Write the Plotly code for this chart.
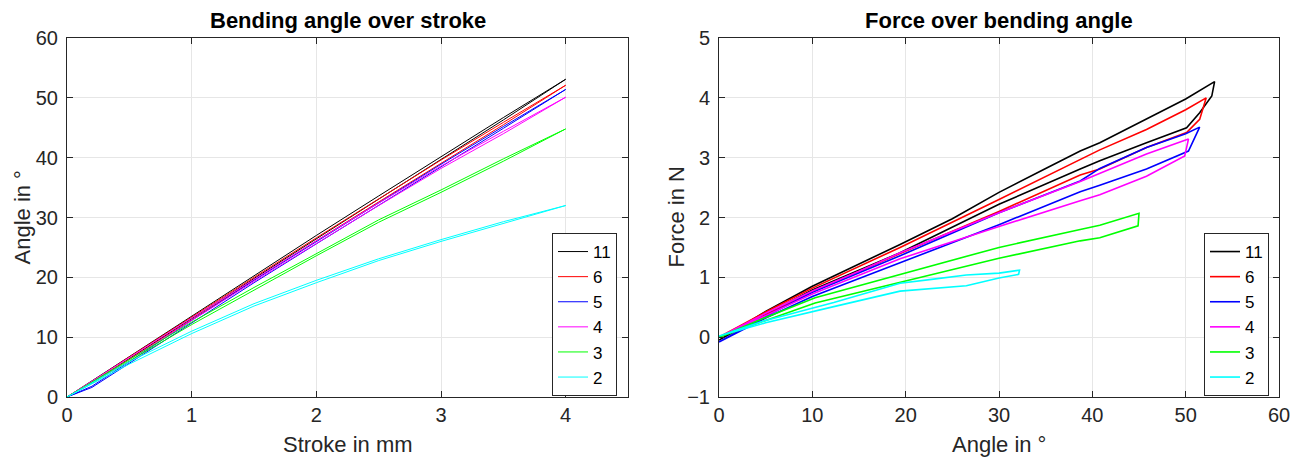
import plotly.graph_objects as go

# ---------------- data ----------------
series_names = ["11", "6", "5", "4", "3", "2"]
series_colors = ["#000000", "#ff0000", "#0000ff", "#ff00ff", "#00ff00", "#00ffff"]

# Left: bending angle over stroke (loading then unloading)
stroke_load = [0, 0.2, 0.5, 1.0, 1.5, 2.0, 2.5, 3.0, 3.5, 4.0]
stroke_unload = [4.0, 3.5, 3.0, 2.5, 2.0, 1.5, 1.0, 0.5, 0.2, 0]

angle_load_11 = [0, 2.7, 6.8, 13.6, 20.3, 27.0, 33.6, 40.2, 46.7, 53.1]
angle_unload_11 = [53.1, 46.3, 39.7, 33.1, 26.5, 19.8, 13.1, 6.4, 2.4, 0]
angle_load_6 = [0, 2.6, 6.7, 13.4, 20.0, 26.6, 33.1, 39.6, 45.9, 52.1]
angle_unload_6 = [52.1, 45.5, 39.1, 32.6, 26.1, 19.6, 12.9, 6.3, 2.4, 0]
angle_load_5 = [0, 1.8, 5.9, 12.8, 19.5, 26.0, 32.5, 38.9, 45.2, 51.4]
angle_unload_5 = [51.4, 44.9, 38.5, 32.1, 25.6, 19.1, 12.4, 5.6, 1.6, 0]
angle_load_4 = [0, 2.6, 6.6, 13.2, 19.7, 26.1, 32.4, 38.6, 44.4, 50.1]
angle_unload_4 = [50.1, 44.0, 38.2, 32.0, 25.7, 19.3, 12.8, 6.2, 2.3, 0]
angle_load_3 = [0, 2.5, 6.3, 12.5, 18.3, 24.0, 29.6, 34.6, 39.8, 44.8]
angle_unload_3 = [44.8, 39.4, 34.2, 29.2, 23.6, 17.9, 12.1, 6.0, 2.3, 0]
angle_load_2 = [0, 2.4, 5.9, 11.0, 15.6, 19.5, 23.1, 26.3, 29.3, 32.0]
angle_unload_2 = [32.0, 29.0, 26.0, 22.8, 19.1, 15.2, 10.6, 5.5, 2.2, 0]

# Right: force over bending angle (loading branch, then unloading branch)
fa_up_11 = [0, 5, 10, 15, 19.4, 25, 30, 35, 38.7, 40.8, 45.8, 50, 53.1]
ff_up_11 = [-0.05, 0.43, 0.85, 1.22, 1.55, 1.98, 2.42, 2.82, 3.11, 3.25, 3.64, 3.98, 4.27]
fa_dn_11 = [53.1, 52.8, 51.5, 50.1, 45.8, 40.8, 38.7, 30, 19.4, 10, 5, 0]
ff_dn_11 = [4.27, 4.03, 3.75, 3.50, 3.25, 2.95, 2.81, 2.22, 1.41, 0.79, 0.38, -0.05]

fa_up_6 = [0, 5, 10, 15, 19.4, 30, 38.7, 40.8, 45.8, 50, 52.2]
ff_up_6 = [0, 0.42, 0.82, 1.18, 1.50, 2.30, 2.97, 3.13, 3.47, 3.80, 4.00]
fa_dn_6 = [52.2, 51.5, 50.1, 45.8, 40.8, 38.7, 30, 19.4, 10, 5, 0]
ff_dn_6 = [4.00, 3.64, 3.42, 3.17, 2.81, 2.71, 2.10, 1.40, 0.76, 0.37, 0]

fa_up_5 = [0, 5, 10, 15, 19.4, 30, 38.7, 40.8, 45.8, 50, 51.5]
ff_up_5 = [-0.08, 0.35, 0.75, 1.08, 1.36, 2.08, 2.61, 2.82, 3.17, 3.40, 3.51]
fa_dn_5 = [51.5, 50.3, 45.8, 40.8, 38.7, 30, 19.4, 10, 5, 0]
ff_dn_5 = [3.51, 3.11, 2.81, 2.54, 2.43, 1.88, 1.25, 0.68, 0.32, -0.08]

fa_up_4 = [0, 5, 10, 15, 19.4, 30, 38.7, 40.8, 45.8, 50.3]
ff_up_4 = [0, 0.40, 0.77, 1.10, 1.41, 2.08, 2.60, 2.74, 3.06, 3.31]
fa_dn_4 = [50.3, 49.9, 45.8, 40.8, 38.7, 30, 19.4, 10, 5, 0]
ff_dn_4 = [3.31, 3.03, 2.69, 2.38, 2.28, 1.85, 1.31, 0.72, 0.36, 0]

fa_up_3 = [0, 5, 10.3, 19.4, 30, 38.7, 40.8, 45.0]
ff_up_3 = [0, 0.33, 0.66, 1.05, 1.50, 1.80, 1.87, 2.07]
fa_dn_3 = [45.0, 44.9, 40.8, 38.7, 30, 19.4, 10.3, 5, 0]
ff_dn_3 = [2.07, 1.86, 1.66, 1.61, 1.32, 0.92, 0.57, 0.28, 0]

fa_up_2 = [0, 5, 12.3, 19.4, 23, 26.5, 30, 32.2]
ff_up_2 = [0.02, 0.28, 0.58, 0.90, 0.97, 1.04, 1.07, 1.12]
fa_dn_2 = [32.2, 32.1, 30, 26.5, 23, 19.4, 12.3, 5, 0]
ff_dn_2 = [1.12, 1.05, 0.99, 0.86, 0.81, 0.77, 0.51, 0.24, 0.02]

left_data = [
    (angle_load_11, angle_unload_11), (angle_load_6, angle_unload_6),
    (angle_load_5, angle_unload_5), (angle_load_4, angle_unload_4),
    (angle_load_3, angle_unload_3), (angle_load_2, angle_unload_2),
]
right_data = [
    (fa_up_11, ff_up_11, fa_dn_11, ff_dn_11), (fa_up_6, ff_up_6, fa_dn_6, ff_dn_6),
    (fa_up_5, ff_up_5, fa_dn_5, ff_dn_5), (fa_up_4, ff_up_4, fa_dn_4, ff_dn_4),
    (fa_up_3, ff_up_3, fa_dn_3, ff_dn_3), (fa_up_2, ff_up_2, fa_dn_2, ff_dn_2),
]

# ---------------- figure ----------------
W, H = 1301, 457
FONT = "Liberation Sans, Arial, Helvetica, sans-serif"
AX = "#262626"
GRID = "#e6e6e6"

fig = go.Figure()

for name, col, (ld, ud) in zip(series_names, series_colors, left_data):
    fig.add_trace(go.Scatter(
        x=stroke_load + stroke_unload, y=ld + ud, mode="lines", name=name,
        line=dict(color=col, width=1), xaxis="x", yaxis="y", legend="legend",
    ))

for name, col, (xa, ya, xb, yb) in zip(series_names, series_colors, right_data):
    fig.add_trace(go.Scatter(
        x=xa + xb, y=ya + yb, mode="lines", name=name,
        line=dict(color=col, width=1.6), xaxis="x2", yaxis="y2", legend="legend2",
    ))

ydom = [1 - 397 / H, 1 - 38 / H]
common_axis = dict(
    showline=True, linecolor=AX, linewidth=1, mirror="ticks",
    ticks="inside", ticklen=6, tickcolor=AX, tickwidth=1,
    showgrid=True, gridcolor=GRID, gridwidth=1, zeroline=False,
    tickfont=dict(family=FONT, size=20, color=AX),
    automargin=False,
)
title_font = dict(family=FONT, size=22, color=AX)

legend_style = dict(
    xanchor="right", yanchor="top", bgcolor="white", bordercolor=AX, borderwidth=1,
    font=dict(family=FONT, size=17, color="#000"), itemwidth=30, tracegroupgap=0,
)

def ann(text, xpx, ypx, size=22, bold=False, angle=0, color=AX):
    return dict(
        text=f"<b>{text}</b>" if bold else text, x=xpx / W, y=1 - ypx / H,
        xref="paper", yref="paper", xanchor="center", yanchor="middle",
        textangle=angle, showarrow=False, font=dict(family=FONT, size=size, color=color),
    )

fig.update_layout(
    width=W, height=H,
    margin=dict(l=0, r=0, t=0, b=0),
    paper_bgcolor="white", plot_bgcolor="white",
    showlegend=True,
    xaxis=dict(domain=[67 / W, 628 / W], range=[0, 4.5], dtick=1, anchor="y",
               ticklabelstandoff=0, **common_axis),
    yaxis=dict(domain=ydom, range=[0, 60], dtick=10, anchor="x",
               ticklabelstandoff=4, **common_axis),
    xaxis2=dict(domain=[719 / W, 1279 / W], range=[0, 60], dtick=10, anchor="y2",
                ticklabelstandoff=0, **common_axis),
    yaxis2=dict(domain=ydom, range=[-1, 5], dtick=1, anchor="x2",
                ticklabelstandoff=4, **common_axis),
    legend=dict(x=617 / W, y=1 - 233 / H, **legend_style),
    legend2=dict(x=1269 / W, y=1 - 233 / H, **legend_style),
    annotations=[
        ann("Bending angle over stroke", (67 + 628) / 2, 20, bold=True, color="#000"),
        ann("Force over bending angle", (719 + 1279) / 2, 20, bold=True, color="#000"),
        ann("Stroke in mm", (67 + 628) / 2, 444),
        ann("Angle in °", (719 + 1279) / 2, 444),
        ann("Angle in °", 22, (38 + 397) / 2, angle=-90),
        ann("Force in N", 676, (38 + 397) / 2, angle=-90),
    ],
)

fig.write_html("out.html")
